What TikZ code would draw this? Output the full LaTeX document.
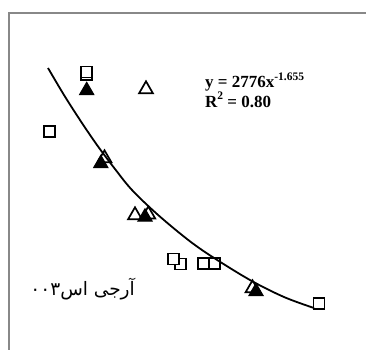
\documentclass[tikz,border=0pt]{standalone}
\usepackage{fontspec}
\setmainfont{Liberation Serif}
\newfontfamily\arabicfont[Script=Arabic]{DejaVu Sans}
\TeXXeTstate=1
\usetikzlibrary{shapes.geometric}
\tikzset{
  sqm/.style={rectangle, draw=black, fill=white, line width=1.9pt, minimum size=11pt, inner sep=0pt, outer sep=0pt},
  otri/.style={regular polygon, regular polygon sides=3, draw=black, fill=white, line width=1.7pt, minimum size=16pt, inner sep=0pt, outer sep=0pt},
  ftri/.style={regular polygon, regular polygon sides=3, draw=black, fill=black, line width=1pt, minimum size=16.5pt, inner sep=0pt, outer sep=0pt},
  trend/.style={draw=black, line width=1.8pt},
  frameline/.style={draw={rgb,255:red,136;green,136;blue,136}, line width=2pt},
  eqtext/.style={anchor=base west, inner sep=0pt, font=\bfseries\fontsize{17}{18}\selectfont},
}
\newcommand{\supx}[1]{\raisebox{0.42em}[0pt][0pt]{\fontsize{11.5}{12}\selectfont #1}}
\begin{document}
\begin{tikzpicture}[x=1pt,y=-1pt]
\useasboundingbox (0,0) rectangle (366,349);
\fill[white] (0,0) rectangle (366,349);
% frame
\coordinate (fb) at (9,352);
\coordinate (fc) at (9,13);
\coordinate (fr) at (370,13);
\draw[frameline] (fb) -- (fc) -- (fr);

% squares
\node[sqm] (sq1b) at (86.7,74.2) {};
\node[sqm] (sq1a) at (86.7,72) {};
\node[sqm] (sq2) at (49.7,131.7) {};
\node[sqm] (sq3b) at (180.8,264) {};
\node[sqm] (sq3a) at (173.8,259) {};
\node[sqm] (sq4a) at (203.8,263.3) {};
\node[sqm] (sq4b) at (214.7,263.3) {};
\node[sqm] (sq5) at (319,303.5) {};

% open triangles
\node[otri] (ot1) at (146,89.3) {};
\node[otri] (ot2) at (104.5,158.3) {};
\node[otri] (ot3) at (135,215.3) {};
\node[otri] (ot4) at (148.3,214.5) {};
\node[otri] (ot5) at (252.5,288.3) {};

% filled triangles
\node[ftri] (ft1) at (86.7,90.5) {};
\node[ftri] (ft2) at (100.8,163.5) {};
\node[ftri] (ft3) at (145,217) {};
\node[ftri] (ft4) at (256,291.5) {};

% trend line
\draw[trend] plot[smooth, tension=0.55] coordinates {(48,68) (64,95) (80,120) (97,145) (115,169) (132,190) (157,214) (187,239) (211,256) (250,280) (284,297) (314,308)};

% equation
\node[eqtext] (eq1) at (205,87.5) {y = 2776x\supx{-1.655}};
\node[eqtext] (eq2) at (205,107) {R\supx{2} = 0.80};

% label
\node[anchor=base east, inner sep=0pt, font=\arabicfont\fontsize{18.5}{20}\selectfont] (lbl) at (135,295) {\beginR آرجی اس\beginL ۰۰۳\endL\endR};
\end{tikzpicture}
\end{document}
